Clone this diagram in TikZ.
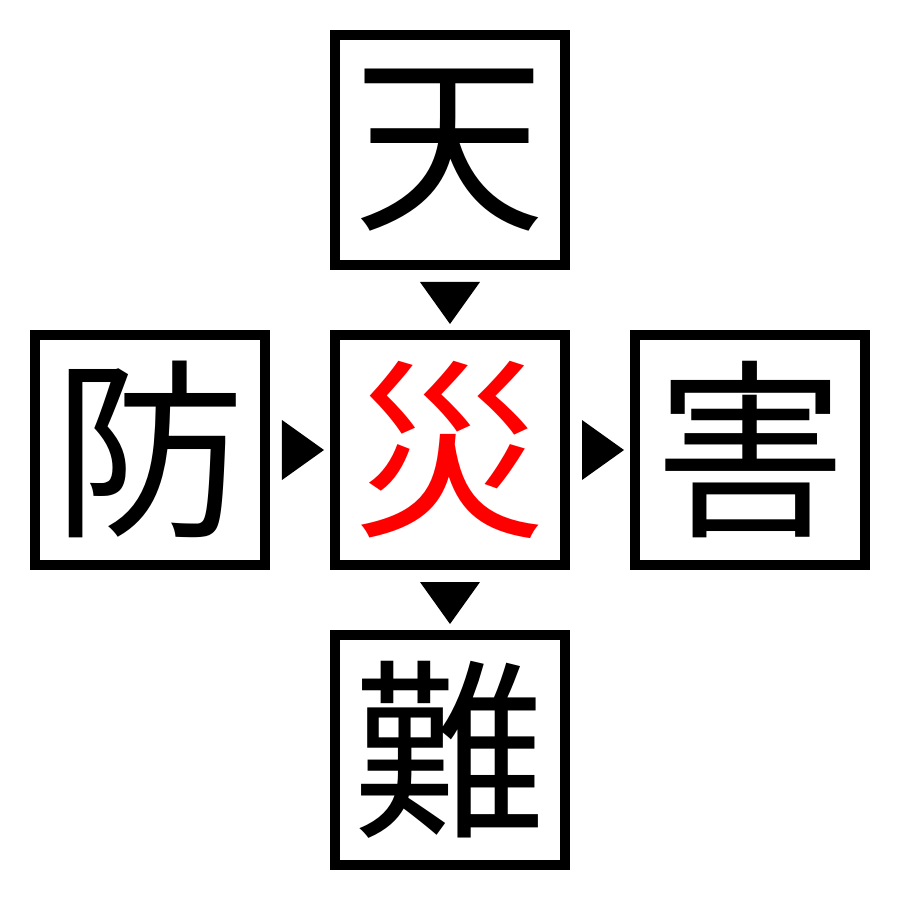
\documentclass[tikz,border=0pt]{standalone}
\usepackage{fontspec}
\newfontfamily\cjk{Noto Sans CJK JP}
\usepackage{tikz}
\usetikzlibrary{positioning,calc}

\begin{document}
\begin{tikzpicture}[node distance=60pt,
    kanjibox/.style={rectangle,draw,line width=10pt,minimum size=230pt,inner sep=0pt,
      font=\cjk\fontsize{192pt}{192pt}\selectfont},
    marker/.style={fill=black}]
    \useasboundingbox (-450pt,-450pt) rectangle (450pt,450pt);

    \node[kanjibox,text=red] (sai) at (0,0) {災};
    \node[kanjibox,above=of sai] (ten) {天};
    \node[kanjibox,left=of sai] (bou) {防};
    \node[kanjibox,right=of sai] (gai) {害};
    \node[kanjibox,below=of sai] (nan) {難};

    % markers in the gaps
    \fill[marker] ($(ten.south)+(-30pt,-12pt)$) -- ++(60pt,0) -- ++(-30pt,-42pt) -- cycle;
    \fill[marker] ($(sai.south)+(-30pt,-12pt)$) -- ++(60pt,0) -- ++(-30pt,-42pt) -- cycle;
    \fill[marker] ($(bou.east)+(12pt,30pt)$) -- ++(0,-60pt) -- ++(42pt,30pt) -- cycle;
    \fill[marker] ($(sai.east)+(12pt,30pt)$) -- ++(0,-60pt) -- ++(42pt,30pt) -- cycle;
\end{tikzpicture}
\end{document}
